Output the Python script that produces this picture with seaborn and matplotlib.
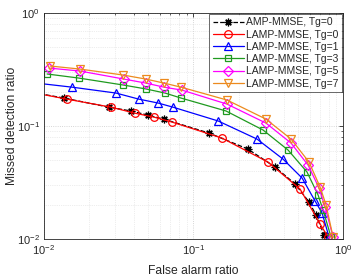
import numpy as np
import pandas as pd
import seaborn as sns
import matplotlib.pyplot as plt
from matplotlib.ticker import LogLocator, NullFormatter

# ROC points (false alarm ratio, missed detection ratio)
amp_fa = [0.0069, 0.0136, 0.0272, 0.0382, 0.0496, 0.0635, 0.127, 0.231, 0.351, 0.478, 0.592, 0.660, 0.746]
amp_md = [0.208, 0.177, 0.147, 0.136, 0.125, 0.115, 0.0867, 0.0626, 0.0434, 0.0307, 0.0213, 0.0163, 0.0109]

lamp0_fa = [0.0069, 0.0143, 0.0281, 0.0406, 0.0544, 0.0718, 0.155, 0.315, 0.516, 0.702, 0.794]
lamp0_md = [0.208, 0.173, 0.147, 0.130, 0.120, 0.1085, 0.0783, 0.0480, 0.0277, 0.0136, 0.0104]

lamp1_fa = [0.0078, 0.0154, 0.0303, 0.0432, 0.0579, 0.0729, 0.146, 0.266, 0.397, 0.532, 0.650, 0.724, 0.806]
lamp1_md = [0.245, 0.221, 0.196, 0.173, 0.160, 0.147, 0.111, 0.0767, 0.0510, 0.0347, 0.0217, 0.0170, 0.0104]

lamp3_fa = [0.0105, 0.0171, 0.0338, 0.0481, 0.0645, 0.0825, 0.165, 0.292, 0.429, 0.574, 0.681, 0.735, 0.831]
lamp3_md = [0.289, 0.266, 0.231, 0.213, 0.196, 0.177, 0.136, 0.0922, 0.0613, 0.0392, 0.0245, 0.0181, 0.0104]

lamp5_fa = [0.0108, 0.0174, 0.0343, 0.0481, 0.0635, 0.0838, 0.1675, 0.305, 0.449, 0.583, 0.691, 0.758, 0.858]
lamp5_md = [0.326, 0.307, 0.2605, 0.240, 0.221, 0.208, 0.1565, 0.1063, 0.0707, 0.0452, 0.0283, 0.0192, 0.0104]

lamp7_fa = [0.0110, 0.0174, 0.0338, 0.0481, 0.0635, 0.0825, 0.1675, 0.305, 0.449, 0.592, 0.702, 0.770, 0.858]
lamp7_md = [0.340, 0.3195, 0.283, 0.2605, 0.240, 0.221, 0.170, 0.1153, 0.0767, 0.048, 0.0289, 0.0200, 0.0104]

series = [
    ("AMP-MMSE, Tg=0", amp_fa, amp_md, "black", (8, 2, 0), "--"),
    ("LAMP-MMSE, Tg=0", lamp0_fa, lamp0_md, "#ff0000", "o", "-"),
    ("LAMP-MMSE, Tg=1", lamp1_fa, lamp1_md, "#0000ff", "^", "-"),
    ("LAMP-MMSE, Tg=3", lamp3_fa, lamp3_md, "#1f9a1f", "s", "-"),
    ("LAMP-MMSE, Tg=5", lamp5_fa, lamp5_md, "#ff00ff", "D", "-"),
    ("LAMP-MMSE, Tg=7", lamp7_fa, lamp7_md, "#ec8a1e", "v", "-"),
]

sns.set_style("white")
plt.rcParams['font.family'] = ['Liberation Sans', 'DejaVu Sans']
plt.rcParams['font.size'] = 8

fig = plt.figure(figsize=(3.57, 2.78), dpi=100)
ax = fig.add_axes([0.123, 0.140, 0.838, 0.813])

for name, fa, md, color, marker, ls in series:
    df = pd.DataFrame({"fa": fa, "md": md})
    ms = 5.5
    if marker in ("D", "s"):
        ms = 4.8
    sns.lineplot(data=df, x="fa", y="md", ax=ax, color=color, marker=marker,
                 linestyle=ls, linewidth=0.9, markersize=ms, sort=False,
                 estimator=None, label=name,
                 markerfacecolor="none", markeredgecolor=color, markeredgewidth=0.9)

ax.set_xscale("log")
ax.set_yscale("log")
ax.set_xlim(1e-2, 1)
ax.set_ylim(1e-2, 1)

ax.xaxis.set_major_locator(LogLocator(base=10, numticks=5))
ax.yaxis.set_major_locator(LogLocator(base=10, numticks=5))
ax.xaxis.set_minor_locator(LogLocator(base=10, subs=np.arange(2, 10), numticks=20))
ax.yaxis.set_minor_locator(LogLocator(base=10, subs=np.arange(2, 10), numticks=20))
ax.xaxis.set_minor_formatter(NullFormatter())
ax.yaxis.set_minor_formatter(NullFormatter())

ax.grid(True, which="major", color="#c8c8c8", linestyle=":", linewidth=0.6)
ax.grid(True, which="minor", color="#dcdcdc", linestyle=":", linewidth=0.5)
ax.tick_params(which="both", direction="in", top=True, right=True,
               colors="#262626", labelsize=8)
ax.tick_params(which="major", length=3, width=0.6, pad=3)
ax.tick_params(which="minor", length=1.6, width=0.5)
for sp in ax.spines.values():
    sp.set_color("#262626")
    sp.set_linewidth(0.6)

ax.set_xlabel("False alarm ratio", fontsize=8.7, color="#262626")
ax.set_ylabel("Missed detection ratio", fontsize=8.7, color="#262626")
ax.xaxis.set_label_coords(0.5, -0.142, transform=ax.transAxes)
ax.yaxis.set_label_coords(-0.107, 0.5, transform=ax.transAxes)
ax.xaxis.label.set_va("center")
ax.yaxis.label.set_va("center")

leg = ax.legend(loc="upper right", fontsize=7.5, frameon=True, fancybox=False,
                borderpad=0.3, labelspacing=0.22, handlelength=3.0,
                handletextpad=0.25, borderaxespad=0.1)
leg.get_frame().set_edgecolor("#262626")
leg.get_frame().set_linewidth(0.6)

fig.savefig("out.png", dpi=100)
